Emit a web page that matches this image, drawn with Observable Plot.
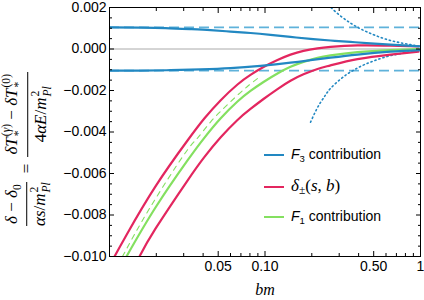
<!DOCTYPE html>
<html><head><meta charset="utf-8">
<script src="https://cdn.jsdelivr.net/npm/d3@7"></script>
<script src="https://cdn.jsdelivr.net/npm/@observablehq/plot@0.6"></script>
<style>
body{margin:0;background:#fff;}
#wrap{position:relative;width:424px;height:300px;overflow:hidden;font-family:"Liberation Sans",Arial,sans-serif;}
#wrap svg{position:absolute;left:0;top:0;}
#ylab{position:absolute;left:28px;top:150px;transform:translate(-50%,-50%) rotate(-90deg);white-space:nowrap;font-family:"Liberation Serif","Times New Roman",serif;font-size:17px;display:flex;align-items:center;line-height:1.1;}
.frac{display:inline-flex;flex-direction:column;align-items:center;}
.frac .n{border-bottom:1px solid #000;padding:0 2px 2px;}
.frac .d{padding:2px 2px 0;}
.it{font-style:italic;}
.ss{display:inline-flex;flex-direction:column;vertical-align:middle;font-size:0.68em;line-height:1.05;margin-left:1px;}
.sub{font-size:0.68em;vertical-align:-0.3em;}
.eq{margin:0 7px;}
#xlab{position:absolute;left:265px;top:281px;transform:translateX(-50%);font-family:"Liberation Serif","Times New Roman",serif;font-style:italic;font-size:16px;}
.lrow{position:absolute;left:264px;height:20px;display:flex;align-items:center;font-size:14px;white-space:nowrap;}
.sw{display:inline-block;width:20px;height:2px;margin-right:7px;}
.lserif{font-family:"Liberation Serif","Times New Roman",serif;font-size:17px;}
</style></head>
<body>
<div id="wrap">
  <div id="ylab">
    <span class="frac"><span class="n"><span class="it">δ</span> − <span class="it">δ</span><span class="sub">0</span></span><span class="d"><span class="it">αs</span>/<span class="it">m</span><span class="ss"><span>2</span><span class="it">Pl</span></span></span></span>
    <span class="eq">=</span>
    <span class="frac"><span class="n"><span class="it">δT</span><span class="ss"><span>(<span class="it">γ</span>)</span><span>*</span></span> − <span class="it">δT</span><span class="ss"><span>(0)</span><span>*</span></span></span><span class="d">4<span class="it">αE</span>/<span class="it">m</span><span class="ss"><span>2</span><span class="it">Pl</span></span></span></span>
  </div>
  <div id="xlab">bm</div>
  <div class="lrow" style="top:145px"><span class="sw" style="background:#2288c2"></span><span><span class="it">F</span><span class="sub">3</span> contribution</span></div>
  <div class="lrow" style="top:177px"><span class="sw" style="background:#e3265f"></span><span class="lserif"><span class="it">δ</span><span class="sub">±</span>(<span class="it">s</span>, <span class="it">b</span>)</span></div>
  <div class="lrow" style="top:207px"><span class="sw" style="background:#84e060"></span><span><span class="it">F</span><span class="sub">1</span> contribution</span></div>
</div>
<script>
// ---- data ----
const f3UpperX = [0.01, 0.01582, 0.02291, 0.03318, 0.04461, 0.05999, 0.08067, 0.1085, 0.1459, 0.1962, 0.2638, 0.3547, 0.4771, 0.6413, 1.0];
const f3UpperY = [0.00104, 0.00103, 0.00101, 0.00096, 0.00091, 0.00084, 0.00077, 0.00068, 0.00058, 0.00049, 0.00041, 0.00034, 0.00027, 0.00021, 0.00013];
const f3LowerX = [0.01, 0.01582, 0.02468, 0.03847, 0.05999, 0.09357, 0.1459, 0.1962, 0.2638, 0.3935, 0.6413, 1.0];
const f3LowerY = [-0.00104, -0.00104, -0.00102, -0.00098, -0.00092, -0.00081, -0.00066, -0.00054, -0.00042, -0.00027, -0.00013, -0.00005];
const f3Asymptotes = [0.00104, -0.00104];
const f3LargeUpperX = [0.2344, 0.2638, 0.3062, 0.3547, 0.4112, 0.4771, 0.5531, 0.6413, 0.7435, 0.8623, 1.0];
const f3LargeUpperY = [0.00243, 0.00202, 0.00159, 0.00125, 0.00097, 0.00075, 0.00056, 0.00041, 0.0003, 0.00021, 0.00013];
const f3LargeLowerX = [0.1962, 0.2113, 0.2275, 0.2449, 0.2638, 0.3062, 0.3547, 0.4112, 0.4771, 0.5531, 0.6413, 0.7435, 0.8623, 1.0];
const f3LargeLowerY = [-0.00353, -0.00301, -0.00258, -0.00222, -0.0019, -0.00145, -0.00111, -0.00084, -0.00063, -0.00046, -0.00032, -0.00022, -0.00013, -0.00006];
const deltaPlusX = [0.01077, 0.01286, 0.01976, 0.03175, 0.04083, 0.05173, 0.06655, 0.08068, 0.09781, 0.1203, 0.1459, 0.1768, 0.2176, 0.2638, 0.3935, 0.6413, 0.9707];
const deltaPlusY = [-0.0100, -0.00896, -0.00662, -0.00441, -0.00334, -0.00248, -0.00171, -0.00125, -0.00087, -0.00053, -0.00027, -0.00009, 0.00003, 0.0001, 0.00017, 0.00016, 0.00013];
const deltaMinusX = [0.01559, 0.01976, 0.03175, 0.04083, 0.05173, 0.06655, 0.08068, 0.09781, 0.1203, 0.1459, 0.1768, 0.2176, 0.2638, 0.3935, 0.6413, 0.9707];
const deltaMinusY = [-0.0100, -0.00866, -0.00634, -0.0052, -0.00427, -0.00342, -0.00289, -0.00241, -0.00193, -0.00153, -0.00122, -0.00096, -0.00079, -0.00049, -0.00027, -0.00013];
const f1X = [0.01286, 0.01976, 0.03175, 0.04083, 0.05173, 0.06655, 0.08068, 0.09781, 0.1203, 0.1459, 0.1768, 0.2176, 0.2638, 0.3935, 0.6413, 0.9707];
const f1Y = [-0.0100, -0.00764, -0.00537, -0.00427, -0.00335, -0.00253, -0.00202, -0.00159, -0.00118, -0.00086, -0.00062, -0.00043, -0.00031, -0.00015, -0.00005, 0.0];
const f1SmallX = [0.01212, 0.01808, 0.02991, 0.03681, 0.04461, 0.05408, 0.06557, 0.07833, 0.09218];
const f1SmallY = [-0.0100, -0.00769, -0.00513, -0.00429, -0.00352, -0.00287, -0.00227, -0.00176, -0.00135];
const xMajorTicks = [0.05, 0.1, 0.5, 1];
const xMajorLabels = ["0.05", "0.10", "0.50", "1"];
const xMinorTicks = [0.02, 0.03, 0.04, 0.06, 0.07, 0.08, 0.09, 0.2, 0.3, 0.4, 0.6, 0.7, 0.8, 0.9];
const yMajorTicks = [0.002, 0.0, -0.002, -0.004, -0.006, -0.008, -0.010];
const yMajorLabels = ["0.002", "0.000", "\u22120.002", "\u22120.004", "\u22120.006", "\u22120.008", "\u22120.010"];
const yMinorTicks = [0.0015, 0.001, 0.0005, -0.0005, -0.001, -0.0015, -0.0025, -0.003, -0.0035, -0.0045, -0.005, -0.0055, -0.0065, -0.007, -0.0075, -0.0085, -0.009, -0.0095];

const pts = (xs, ys) => xs.map((x, i) => ({x, y: ys[i]}));
const BLUE = "#2288c2", BLUE_L = "#5fb2da", PINK = "#e3265f", GREEN = "#84e060";
const none = () => "";
const xfmt = d => xMajorLabels[xMajorTicks.indexOf(d)] ?? "";
const yfmt = d => { const i = yMajorTicks.findIndex(v => Math.abs(v - d) < 1e-9); return i >= 0 ? yMajorLabels[i] : ""; };

const lineOpts = (stroke, w, extra = {}) => ({x: "x", y: "y", stroke, strokeWidth: w, curve: "natural", clip: true, ...extra});

const chart = Plot.plot({
  width: 424, height: 300,
  marginLeft: 109, marginRight: 4, marginTop: 7, marginBottom: 44,
  x: {type: "log", domain: [0.01, 1]},
  y: {domain: [-0.010, 0.002]},
  style: {fontFamily: "Liberation Sans, Arial, sans-serif", fontSize: "14px", background: "transparent", color: "black"},
  marks: [
    Plot.ruleY([0], {stroke: "#aaaaaa", strokeWidth: 1}),
    Plot.ruleY(f3Asymptotes, {stroke: BLUE_L, strokeWidth: 1.6, strokeDasharray: "10,5"}),
    Plot.line(pts(f3LargeUpperX, f3LargeUpperY), lineOpts(BLUE, 1.6, {strokeDasharray: "1.2,3", strokeLinecap: "round"})),
    Plot.line(pts(f3LargeLowerX, f3LargeLowerY), lineOpts(BLUE, 1.6, {strokeDasharray: "1.2,3", strokeLinecap: "round"})),
    Plot.line(pts(f1SmallX, f1SmallY), lineOpts(GREEN, 1.1, {strokeDasharray: "5,5"})),
    Plot.line(pts(f1X, f1Y), lineOpts(GREEN, 2.2)),
    Plot.line(pts(deltaPlusX, deltaPlusY), lineOpts(PINK, 2.2)),
    Plot.line(pts(deltaMinusX, deltaMinusY), lineOpts(PINK, 2.2)),
    Plot.line(pts(f3UpperX, f3UpperY), lineOpts(BLUE, 2.2)),
    Plot.line(pts(f3LowerX, f3LowerY), lineOpts(BLUE, 2.2)),
    Plot.frame({stroke: "black", strokeWidth: 1}),
    Plot.axisX({ticks: xMinorTicks, anchor: "bottom", tickSize: -3, tickFormat: none, label: null}),
    Plot.axisX({ticks: xMajorTicks, anchor: "bottom", tickSize: -5, tickFormat: none, label: null}),
    Plot.axisX({ticks: xMajorTicks, anchor: "bottom", tickSize: 0, tickPadding: 5, tickFormat: xfmt, label: null}),
    Plot.axisX({ticks: xMinorTicks, anchor: "top", tickSize: -3, tickFormat: none, label: null}),
    Plot.axisX({ticks: xMajorTicks, anchor: "top", tickSize: -5, tickFormat: none, label: null}),
    Plot.axisY({ticks: yMinorTicks, anchor: "left", tickSize: -3, tickFormat: none, label: null}),
    Plot.axisY({ticks: yMajorTicks, anchor: "left", tickSize: -5, tickFormat: none, label: null}),
    Plot.axisY({ticks: yMajorTicks, anchor: "left", tickSize: 0, tickPadding: 3, tickFormat: yfmt, label: null}),
    Plot.axisY({ticks: yMinorTicks, anchor: "right", tickSize: -3, tickFormat: none, label: null}),
    Plot.axisY({ticks: yMajorTicks, anchor: "right", tickSize: -5, tickFormat: none, label: null})
  ]
});
document.getElementById("wrap").prepend(chart);
</script>
</body></html>
